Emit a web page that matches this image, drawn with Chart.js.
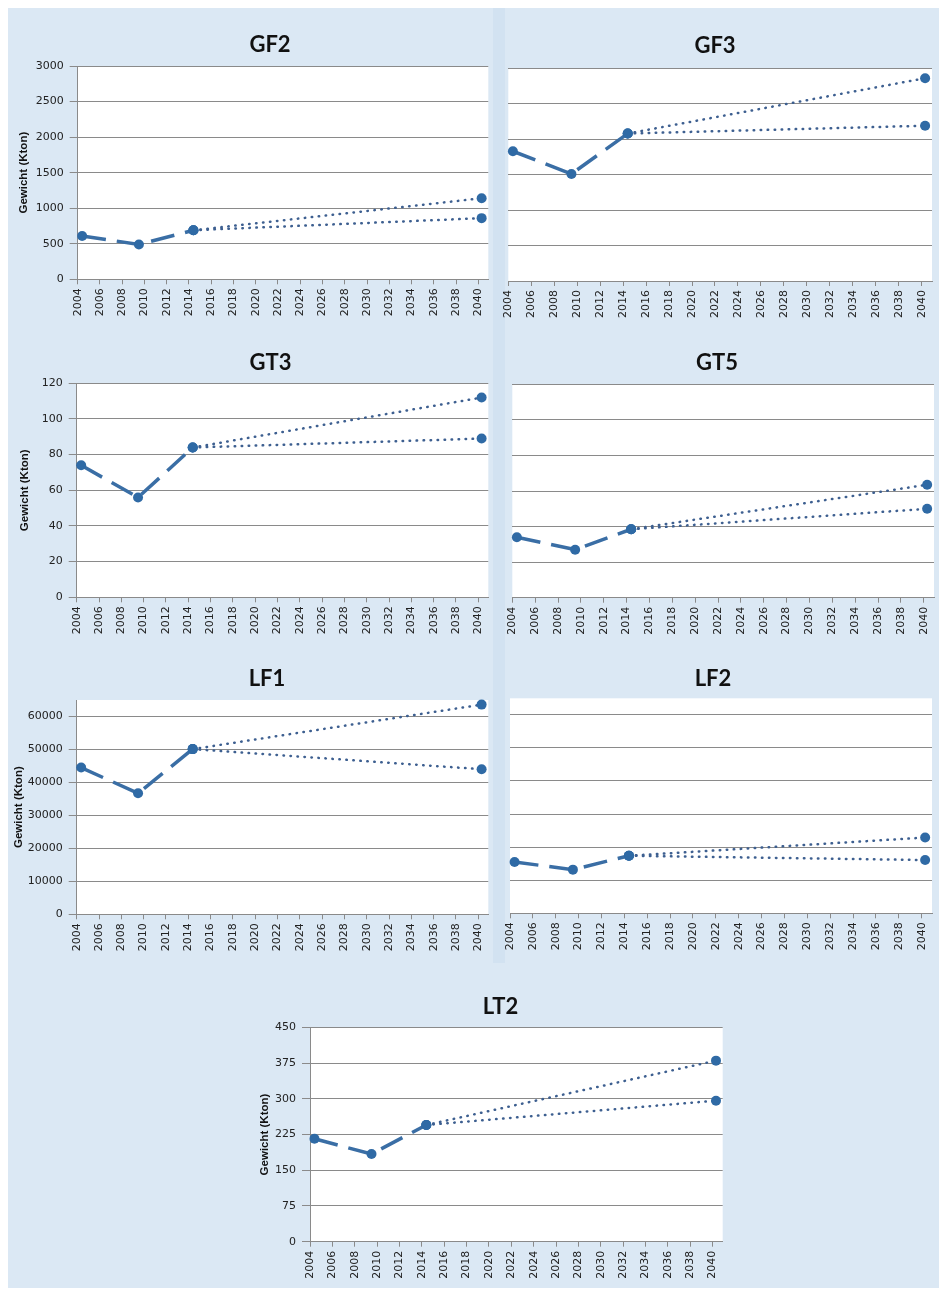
<!DOCTYPE html>
<html>
<head>
<meta charset="utf-8">
<script src="https://cdn.jsdelivr.net/npm/chart.js@4.4.0/dist/chart.umd.min.js"></script>
<style>
html,body{margin:0;padding:0;background:#ffffff;width:939px;height:1290px;overflow:hidden;}
#panel{position:absolute;left:8px;top:8px;width:931px;height:1280px;background:#dbe8f4;}
#strip{position:absolute;left:493px;top:8px;width:12px;height:955px;background:#d2e2f1;}
canvas{position:absolute;}
</style>
</head>
<body>
<div id="panel"></div>
<div id="strip"></div>
<script>
// ---------------- DATA ----------------
const chartTitles = ['GF2', 'GF3', 'GT3', 'GT5', 'LF1', 'LF2', 'LT2'];
const yAxisTitle = 'Gewicht (Kton)';

const histYears = [2004.4, 2009.5, 2014.4];
const projYears = [2014.4, 2040.3];

// x axis tick labels: 2004 .. 2040 every 2 years
const xTickFirst = 2004;
const xTickLast = 2040;
const xTickStep = 2;
const xAxisMax = 2040.9;

// historical values (2004, 2009, 2014) and the two 2040 projections
const histGF2 = [610, 490, 690];       const highGF2 = 1140;  const lowGF2 = 860;
const histGF3 = [1830, 1510, 2080];    const highGF3 = 2860;  const lowGF3 = 2190;
const histGT3 = [74, 56, 84];          const highGT3 = 112;   const lowGT3 = 89;
const histGT5 = [34, 27, 38.5];        const highGT5 = 63.5;  const lowGT5 = 50;
const histLF1 = [44500, 36700, 50100]; const highLF1 = 63600; const lowLF1 = 44000;
const histLF2 = [15500, 13200, 17400]; const highLF2 = 22900; const lowLF2 = 16100;
const histLT2 = [216, 184, 245];       const highLT2 = 380;   const lowLT2 = 296;

// y axis ranges and tick labels
const yMaxes = [3000, 3000, 120, 120, 65000, 65000, 450];
const yTicksGF = [0, 500, 1000, 1500, 2000, 2500, 3000];
const yTicksGT = [0, 20, 40, 60, 80, 100, 120];
const yTicksLF = [0, 10000, 20000, 30000, 40000, 50000, 60000];
const yTicksLT = [0, 75, 150, 225, 300, 375, 450];
const yTickSets = [yTicksGF, yTicksGF, yTicksGT, yTicksGT, yTicksLF, yTicksLF, yTicksLT];
const yLabelsShown = [true, false, true, false, true, false, true];

const histSeries = [histGF2, histGF3, histGT3, histGT5, histLF1, histLF2, histLT2];
const highSeries = [highGF2, highGF3, highGT3, highGT5, highLF1, highLF2, highLT2];
const lowSeries  = [lowGF2, lowGF3, lowGT3, lowGT5, lowLF1, lowLF2, lowLT2];

// ---------------- LAYOUT (page pixel geometry) ----------------
const geo = [
  {cx: 270,   ty: 45,    L: 77.7,  R: 488.3, T: 66,     B: 279.3,  left: 10,  yTitlePad: 7.1},
  {cx: 715,   ty: 46,    L: 508.3, R: 936.7, T: 68.3,   B: 281,    right: 937},
  {cx: 270.7, ty: 362.7, L: 76.7,  R: 488.3, T: 383.3,  B: 597.3,  left: 10,  yTitlePad: 8.1},
  {cx: 717,   ty: 363,   L: 512.3, R: 939,   T: 384.3,  B: 597.7,  right: 939},
  {cx: 267,   ty: 679.3, L: 76.7,  R: 488.3, T: 700,    B: 914.3,  left: 10,  yTitlePad: 2.1},
  {cx: 713,   ty: 679,   L: 510,   R: 937,   T: 698.3,  B: 913.3,  right: 937},
  {cx: 500.7, ty: 1006.7,L: 310,   R: 722.7, T: 1027.3, B: 1241.7, left: 255, yTitlePad: 3.1}
];

const GRID = '#8a8a8a';
const HIST_COLOR = '#3a6ea5';
const POINT_COLOR = '#2f6aa5';
const PROJ_COLOR = '#3d5f90';
const TITLE_FONT = {family: 'Lato', size: 22, weight: 'bold', lineHeight: 1.2};
const TITLE_LH = 22 * 1.2;

Chart.defaults.font.family = "'DejaVu Sans', 'Liberation Sans', sans-serif";
Chart.defaults.animation = false;

const plotBg = {
  id: 'plotBg',
  beforeDraw(chart) {
    const {ctx, chartArea: a} = chart;
    ctx.save();
    ctx.fillStyle = '#ffffff';
    ctx.fillRect(a.left, a.top, a.right - a.left, a.bottom - a.top);
    ctx.restore();
  }
};

const xTickValues = [];
for (let v = xTickFirst; v <= xTickLast; v += xTickStep) xTickValues.push(v);

function build(i) {
  const g = geo[i];
  let left, right;
  if (g.left !== undefined) {
    left = g.left;
    right = Math.round(2 * g.cx - left);
  } else {
    right = g.right;
    left = Math.round(2 * g.cx - right);
  }
  const top = Math.round(g.ty - TITLE_LH / 2);
  const W = right - left;
  const H = Math.ceil(g.B + 40 - top);
  const yLW = g.L - left;
  const yRW = Math.max(0, right - g.R);
  const xH = top + H - g.B;
  const titlePb = g.T - top - TITLE_LH;

  const canvas = document.createElement('canvas');
  canvas.width = W; canvas.height = H;
  canvas.style.left = left + 'px';
  canvas.style.top = top + 'px';
  canvas.style.width = W + 'px';
  canvas.style.height = H + 'px';
  document.body.appendChild(canvas);

  const hist = histSeries[i];
  const histData = histYears.map((yr, k) => ({x: yr, y: hist[k]}));
  const highData = [{x: projYears[0], y: hist[hist.length - 1]}, {x: projYears[1], y: highSeries[i]}];
  const lowData  = [{x: projYears[0], y: hist[hist.length - 1]}, {x: projYears[1], y: lowSeries[i]}];

  const showY = yLabelsShown[i];
  const yTicks = yTickSets[i];

  const projStyle = {
    borderColor: PROJ_COLOR, borderWidth: 2.5, borderDash: [0.5, 6.5], borderCapStyle: 'round',
    pointRadius: 5, pointBackgroundColor: POINT_COLOR, pointBorderColor: POINT_COLOR, pointBorderWidth: 0,
    tension: 0, clip: false, fill: false
  };

  new Chart(canvas, {
    type: 'line',
    data: {
      datasets: [
        Object.assign({label: 'hoog', data: highData}, projStyle),
        Object.assign({label: 'laag', data: lowData}, projStyle),
        {
          label: 'historisch', data: histData,
          borderColor: HIST_COLOR, borderWidth: 3.5, borderDash: [24, 11], borderCapStyle: 'butt',
          pointRadius: 5, pointBackgroundColor: POINT_COLOR, pointBorderColor: POINT_COLOR, pointBorderWidth: 0,
          tension: 0, clip: false, fill: false
        }
      ]
    },
    options: {
      responsive: false,
      devicePixelRatio: 1,
      animation: false,
      layout: {padding: 0},
      plugins: {
        legend: {display: false},
        tooltip: {enabled: false},
        title: {
          display: true, text: chartTitles[i], color: '#111111', font: TITLE_FONT,
          padding: {top: 0, bottom: titlePb}
        }
      },
      scales: {
        x: {
          type: 'linear', min: xTickFirst, max: xAxisMax,
          border: {display: true, color: GRID, width: 1},
          grid: {drawOnChartArea: false, drawTicks: true, tickLength: 5, color: GRID, lineWidth: 1},
          ticks: {
            autoSkip: false, minRotation: 90, maxRotation: 90, padding: 4,
            color: '#222222', font: {size: 11},
            callback: v => String(v)
          },
          afterBuildTicks: s => { s.ticks = xTickValues.map(v => ({value: v})); },
          afterFit: s => { s.height = xH; s.paddingLeft = 0; s.paddingRight = 0; }
        },
        y: {
          type: 'linear', position: 'left', min: 0, max: yMaxes[i],
          border: {display: showY, color: GRID, width: 1},
          grid: {color: GRID, lineWidth: 1, drawTicks: showY, tickLength: 8},
          ticks: {
            display: showY, autoSkip: false, padding: 6,
            color: '#222222', font: {size: 11},
            callback: v => String(v)
          },
          title: {
            display: showY, text: yAxisTitle, color: '#111111',
            font: {family: "'Liberation Sans', Arial, sans-serif", size: 11.5, weight: 'bold', lineHeight: 1.2},
            padding: {top: g.yTitlePad || 0, bottom: 0}
          },
          afterBuildTicks: s => { s.ticks = yTicks.map(v => ({value: v})); },
          afterFit: s => { s.width = yLW; s.paddingTop = 0; s.paddingBottom = 0; }
        },
        yR: {
          type: 'linear', position: 'right', display: true,
          border: {display: false}, grid: {display: false, drawTicks: false},
          ticks: {display: false}, title: {display: false},
          afterFit: s => { s.width = yRW; s.paddingTop = 0; s.paddingBottom = 0; }
        }
      }
    },
    plugins: [plotBg]
  });
}

for (let i = 0; i < chartTitles.length; i++) build(i);
</script>
</body>
</html>
